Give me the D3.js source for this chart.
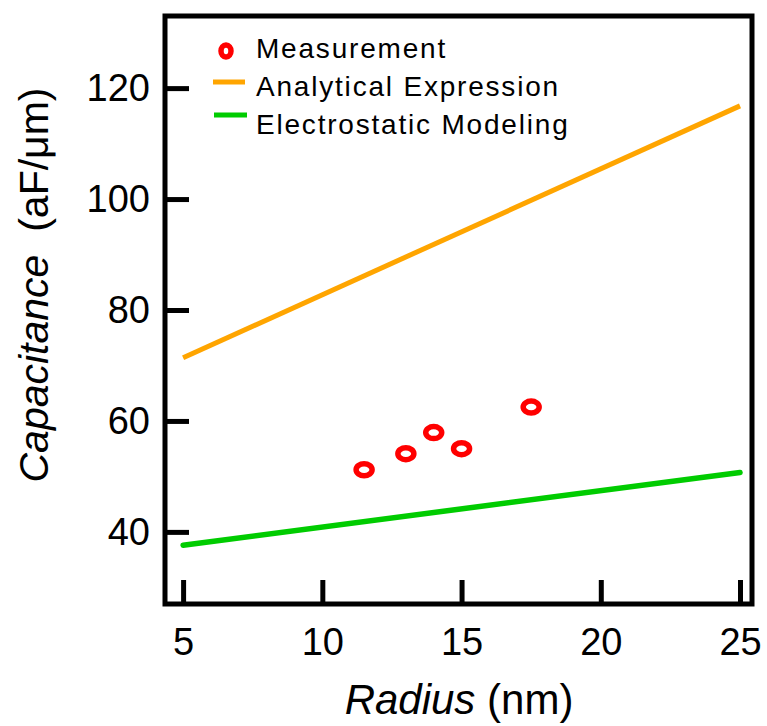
<!DOCTYPE html>
<html><head><meta charset="utf-8">
<script src="https://cdn.jsdelivr.net/npm/d3@7"></script>
<style>body{margin:0;background:#fff}text{font-family:"Liberation Sans",Arial,sans-serif}</style>
</head><body><svg id="c" width="767" height="726"></svg>
<script>
const radiusLine = [5, 25];
const analytical = [71.4, 116.8];
const electrostatic = [37.6, 50.7];
const measRadius = [11.5, 13, 14, 15, 17.5];
const measCap = [51.2, 54.1, 57.9, 55.0, 62.5];
const xTicks = [5, 10, 15, 20, 25];
const yTicks = [40, 60, 80, 100, 120];
const legendLabels = ["Measurement", "Analytical Expression", "Electrostatic Modeling"];
const colors = {orange: "#ffa500", green: "#00cc00", red: "#ff0000"};

const svg = d3.select("#c");
const L = 165, R = 752, T = 16, B = 604;
const x = d3.scaleLinear().domain([4.35, 25.43]).range([L, R]);
const y = d3.scaleLinear().domain([27.0, 133.0]).range([B, T]);

// lines
const line = d3.line().x(d => x(d[0])).y(d => y(d[1]));
svg.append("path").datum(radiusLine.map((r, i) => [r, analytical[i]]))
  .attr("d", line).attr("fill", "none").attr("stroke", colors.orange).attr("stroke-width", 5);
svg.append("path").datum(radiusLine.map((r, i) => [r, electrostatic[i]]))
  .attr("d", line).attr("fill", "none").attr("stroke", colors.green).attr("stroke-width", 5.5).attr("stroke-linecap", "round");

// markers
svg.selectAll("ellipse.m").data(measRadius).join("ellipse").attr("class", "m")
  .attr("cx", d => x(d)).attr("cy", (d, i) => y(measCap[i]))
  .attr("rx", 8).attr("ry", 6).attr("fill", "none").attr("stroke", colors.red).attr("stroke-width", 5.5);

// axes (inward ticks)
const yAxis = d3.axisLeft(y).tickValues(yTicks).tickSize(-24).tickPadding(15).tickFormat(d3.format("d"));
const gy = svg.append("g").attr("transform", `translate(${L},0)`).call(yAxis);
const xAxis = d3.axisBottom(x).tickValues(xTicks).tickSize(-24).tickPadding(24).tickFormat(d3.format("d"));
const gx = svg.append("g").attr("transform", `translate(0,${B})`).call(xAxis);
[gy, gx].forEach(g => {
  g.select(".domain").remove();
  g.selectAll(".tick line").attr("stroke", "#000").attr("stroke-width", 5);
  g.selectAll(".tick text").attr("fill", "#000").style("font-size", "38px").style("font-family", "Liberation Sans, Arial, sans-serif");
});
gx.selectAll(".tick text").attr("dy", "0.71em");

// frame
svg.append("rect").attr("x", L).attr("y", T).attr("width", R - L).attr("height", B - T)
  .attr("fill", "none").attr("stroke", "#000").attr("stroke-width", 5);

// axis titles
const yt = svg.append("text").attr("transform", `translate(48,285) rotate(-90)`)
  .attr("text-anchor", "middle").style("font-size", "41px").attr("fill", "#000");
yt.append("tspan").style("font-style", "italic").text("Capacitance");
yt.append("tspan").text("\u00a0 (aF/\u03bcm)");
const xt = svg.append("text").attr("x", 459).attr("y", 714)
  .attr("text-anchor", "middle").style("font-size", "42px").attr("fill", "#000");
xt.append("tspan").style("font-style", "italic").text("Radius");
xt.append("tspan").text(" (nm)");

// legend
const lg = svg.append("g");
const lb = [58, 96, 134];
lg.append("ellipse").attr("cx", 226).attr("cy", 51).attr("rx", 5).attr("ry", 6)
  .attr("fill", "none").attr("stroke", colors.red).attr("stroke-width", 5.5);
lg.append("line").attr("x1", 213).attr("x2", 245).attr("y1", 82).attr("y2", 82)
  .attr("stroke", colors.orange).attr("stroke-width", 5);
lg.append("line").attr("x1", 214).attr("x2", 247).attr("y1", 115).attr("y2", 115)
  .attr("stroke", colors.green).attr("stroke-width", 5);
lg.selectAll("text").data(legendLabels).join("text")
  .attr("x", 256).attr("y", (d, i) => lb[i])
  .style("font-size", "28px").style("letter-spacing", "1.8px").attr("fill", "#000").text(d => d);
</script></body></html>
